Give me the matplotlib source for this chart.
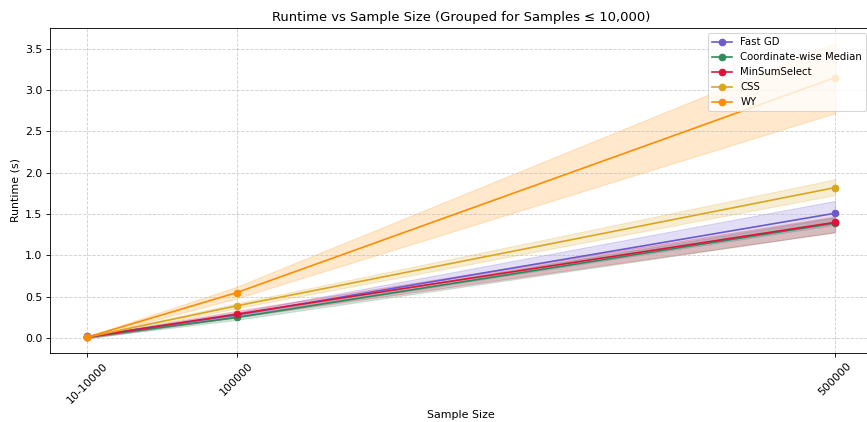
import matplotlib.pyplot as plt

# sample size groups (10-10000 grouped into position 0)
x_pos = [0, 100000, 500000]
x_labels = ['10-10000', '100000', '500000']

methods = ['Fast GD', 'Coordinate-wise Median', 'MinSumSelect', 'CSS', 'WY']
colors = ['slateblue', 'seagreen', 'crimson', 'goldenrod', 'darkorange']

mean_fastgd = [0.02, 0.28, 1.51]
mean_cwm = [0.01, 0.25, 1.39]
mean_mss = [0.01, 0.29, 1.40]
mean_css = [0.01, 0.39, 1.82]
mean_wy = [0.01, 0.55, 3.15]

low_fastgd = [0.0, 0.25, 1.37]
high_fastgd = [0.03, 0.31, 1.66]
low_cwm = [0.0, 0.22, 1.28]
high_cwm = [0.02, 0.28, 1.46]
low_mss = [0.0, 0.25, 1.28]
high_mss = [0.02, 0.33, 1.47]
low_css = [0.0, 0.36, 1.73]
high_css = [0.02, 0.42, 1.92]
low_wy = [0.0, 0.48, 2.72]
high_wy = [0.02, 0.62, 3.57]

means = [mean_fastgd, mean_cwm, mean_mss, mean_css, mean_wy]
lows = [low_fastgd, low_cwm, low_mss, low_css, low_wy]
highs = [high_fastgd, high_cwm, high_mss, high_css, high_wy]

# rendered a bit smaller than default (dpi 79 on a larger canvas)
fig = plt.figure(figsize=(867 / 79, 422 / 79), dpi=79)
ax = fig.add_axes([50 / 867, 1 - 353 / 422, 822 / 867, 325 / 422])

for name, c, m, lo, hi in zip(methods, colors, means, lows, highs):
    ax.plot(x_pos, m, marker='o', color=c, label=name, linewidth=1.5, markersize=6)
    ax.fill_between(x_pos, lo, hi, color=c, alpha=0.2)

ax.set_xticks(x_pos)
ax.set_xticklabels(x_labels, rotation=45)
ax.set_ylim(-0.18, 3.75)
ax.set_xlim(-24700, 524700)
ax.grid(True, linestyle='--', alpha=0.6)
ax.set_title('Runtime vs Sample Size (Grouped for Samples ≤ 10,000)')
ax.set_xlabel('Sample Size')
ax.set_ylabel('Runtime (s)')
# legend sits partly past the right edge, like the original
ax.legend(loc='upper left', bbox_to_anchor=(653 / 822, 1.0), fontsize=9.2)

plt.savefig('out.png', dpi=79)
